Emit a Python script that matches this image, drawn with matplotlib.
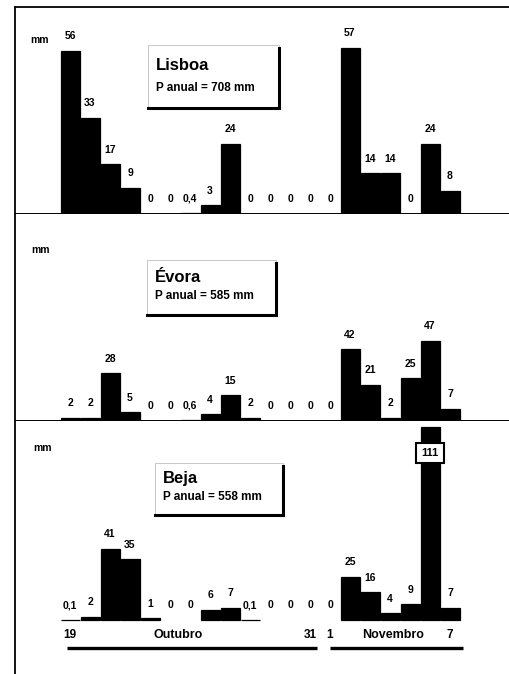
import numpy as np
import matplotlib
matplotlib.use('Agg')
import matplotlib.pyplot as plt
from matplotlib.lines import Line2D
from matplotlib.patches import Rectangle

# precipitacao diaria, 19 Out a 7 Nov
days = [19, 20, 21, 22, 23, 24, 25, 26, 27, 28, 29, 30, 31, 1, 2, 3, 4, 5, 6, 7]
lisboa = [56, 33, 17, 9, 0, 0, 0.4, 3, 24, 0, 0, 0, 0, 0, 57, 14, 14, 0, 24, 8]
evora = [2, 2, 28, 5, 0, 0, 0.6, 4, 15, 2, 0, 0, 0, 0, 42, 21, 2, 25, 47, 7]
beja = [0.1, 2, 41, 35, 1, 0, 0, 6, 7, 0.1, 0, 0, 0, 0, 25, 16, 4, 9, 111, 7]
stations = ['Lisboa', 'Évora', 'Beja']
p_anual = [708, 585, 558]
months = ['Outubro', 'Novembro']

W, H = 510, 674
FONT = 'Liberation Sans'
plt.rcParams['font.family'] = [FONT, 'DejaVu Sans']

fig = plt.figure(figsize=(W / 100, H / 100), dpi=100)


def fx(px):
    return px / W


def fy(py):
    return 1 - py / H


def fmt(v):
    if v == int(v):
        return str(int(v))
    return str(v).replace('.', ',')


def panel(top, bottom, ylim, values, baseline=True):
    ax = fig.add_axes([fx(15), fy(bottom), fx(510) - fx(15), fy(top) - fy(bottom)])
    ax.set_xlim(-2.75, 22.0)
    ax.set_ylim(*ylim)
    ax.axis('off')
    x = np.arange(len(values))
    vals = np.array(values, dtype=float)
    edges = ['black' if v > 0 else 'none' for v in vals]
    ax.bar(x, vals, width=0.95, color='black', edgecolor=edges, linewidth=0.9, zorder=3)
    if baseline:
        ax.axhline(0, color='black', lw=1.4, zorder=2)
    return ax


def labels(ax, values, skip=()):
    for i, v in enumerate(values):
        if i in skip:
            continue
        ax.annotate(fmt(v), (i, v), xytext=(0, 10.5), textcoords='offset points',
                    ha='center', va='center', fontsize=7.5, fontweight='bold',
                    annotation_clip=False)


ax1 = panel(7, 214, (0, 71), lisboa)
labels(ax1, lisboa)
ax2 = panel(214, 421, (0, 121), evora)
labels(ax2, evora)
ax3 = panel(421, 674, (-31, 114.4), beja, baseline=False)
imax = int(np.argmax(beja))
labels(ax3, beja, skip=(imax,))
ax3.annotate(fmt(beja[imax]), (imax, beja[imax]), xytext=(0, -19), textcoords='offset points',
             ha='center', va='center', fontsize=8, fontweight='bold', zorder=5,
             bbox=dict(boxstyle='square,pad=0.45', fc='white', ec='black', lw=1.5))

# eixo dos dias
for i in [0, 12, 13, 19]:
    ax3.text(i, -8.6, str(days[i]), ha='center', va='center', fontsize=8.5, fontweight='bold')
ax3.text(5.4, -8.6, months[0], ha='center', va='center', fontsize=9, fontweight='bold')
ax3.text(16.15, -8.6, months[1], ha='center', va='center', fontsize=9, fontweight='bold')
ax3.plot([-0.15, 12.35], [-16.1, -16.1], color='black', lw=2.4, solid_capstyle='butt', clip_on=False)
ax3.plot([13.0, 19.65], [-16.1, -16.1], color='black', lw=2.4, solid_capstyle='butt', clip_on=False)

# moldura
fig.add_artist(Line2D([fx(15), fx(15)], [0, fy(7)], color='black', lw=1.3))
fig.add_artist(Line2D([fx(15), 1], [fy(7), fy(7)], color='black', lw=1.3))

# caixas com nome da estacao
boxes = [(148, 45, 279, 108), (147, 260, 276, 315), (155, 463, 283, 515)]
title_y = [65, 277, 478]
sub_y = [88, 296, 497]
mm_pos = [(40, 40), (41, 250), (43, 448)]
for k in range(3):
    l, t, r, b = boxes[k]
    fig.add_artist(Rectangle((fx(l), fy(b)), fx(r) - fx(l), fy(t) - fy(b), transform=fig.transFigure,
                             fc='white', ec='0.75', lw=0.6, zorder=4))
    fig.add_artist(Line2D([fx(r), fx(r)], [fy(b), fy(t + 3)], color='black', lw=2.2, zorder=5))
    fig.add_artist(Line2D([fx(l), fx(r)], [fy(b), fy(b)], color='black', lw=2.2, zorder=5))
    fig.text(fx(l + 8), fy(title_y[k]), stations[k], fontsize=12, fontweight='bold', va='center', zorder=6)
    fig.text(fx(l + 8), fy(sub_y[k]), 'P anual = %d mm' % p_anual[k], fontsize=8.5,
             fontweight='bold', va='center', zorder=6)
    fig.text(fx(mm_pos[k][0]), fy(mm_pos[k][1]), 'mm', fontsize=7.5, fontweight='bold',
             ha='center', va='center')

fig.savefig('out.png', dpi=100)
